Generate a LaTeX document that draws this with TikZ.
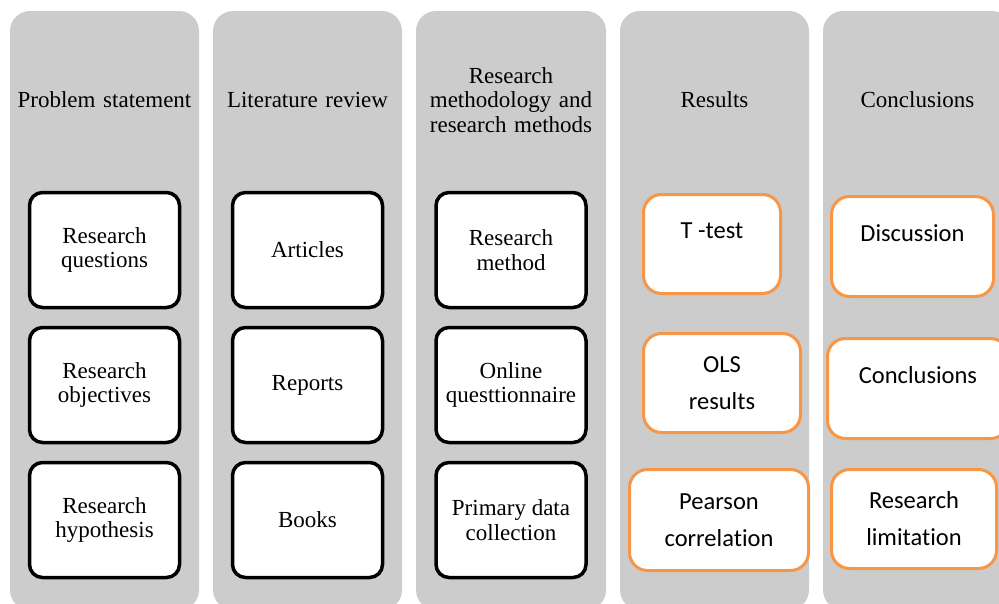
\documentclass[tikz,border=0pt]{standalone}
\usepackage{fontspec}
\setmainfont{Liberation Serif}
\newfontfamily\calib[Ligatures={NoCommon,NoRare}]{Carlito}
\definecolor{panelgray}{RGB}{204,204,204}
\definecolor{boxorange}{RGB}{247,150,70}
\begin{document}
\begin{tikzpicture}[x=1pt,y=-1pt,
 panel/.style={fill=panelgray, rounded corners=20pt},
 head/.style={font=\fontsize{23}{24.5}\selectfont, align=center, text width=185pt, inner sep=0pt},
 bbox/.style={draw=black, line width=3.5pt, fill=white, rounded corners=13pt, minimum width=150pt, minimum height=115pt, align=center, font=\fontsize{23}{24.5}\selectfont, inner sep=0pt},
 obox/.style={draw=boxorange, line width=3pt, fill=white, rounded corners=18pt, align=center, font=\calib\fontsize{24.5}{37}\selectfont, inner sep=0pt}]
\useasboundingbox (0,0) rectangle (999,603);
\clip (0,0) rectangle (999,603);
% panels
\fill[panel] (10,11) rectangle (199,610);
\fill[panel] (213,11) rectangle (402,610);
\fill[panel] (416,11) rectangle (606,610);
\fill[panel] (620,11) rectangle (809,610);
\fill[panel] (823,11) rectangle (1012,610);
% headers
\node[head] (h1) at (104.5,100) {Problem statement};
\node[head] (h2) at (307.5,100) {Literature review};
\node[head] (h3) at (511,100) {Research\\methodology and\\research methods};
\node[head] (h4) at (714.5,100) {Results};
\node[head] (h5) at (917.5,100) {Conclusions};
% column 1
\node[bbox] (a1) at (104.5,250) {Research\\questions};
\node[bbox] (a2) at (104.5,385) {Research\\objectives};
\node[bbox] (a3) at (104.5,520) {Research\\hypothesis};
% column 2
\node[bbox] (b1) at (307.5,250) {Articles};
\node[bbox] (b2) at (307.5,385) {Reports};
\node[bbox] (b3) at (307.5,520) {Books};
% column 3
\node[bbox] (c1) at (511,250) {Research\\method};
\node[bbox] (c2) at (511,385) {Online\\questtionnaire};
\node[bbox] (c3) at (511,520) {Primary data\\collection};
% column 4
\node[obox, minimum width=137pt, text height=43.5pt, text depth=55.5pt] (d1) at (712,244) {T -test};
\node[obox, minimum width=157pt, minimum height=99pt] (d2) at (722,383) {OLS\\results};
\node[obox, minimum width=179pt, minimum height=101pt] (d3) at (719,520) {Pearson\\correlation};
% column 5
\node[obox, minimum width=162pt, text height=44.5pt, text depth=55.5pt] (e1) at (912.5,246.5) {Discussion};
\node[obox, minimum width=181pt, text height=44.5pt, text depth=55.5pt] (e2) at (918,388.5) {Conclusions};
\node[obox, minimum width=165pt, minimum height=99pt] (e3) at (914,519) {Research\\limitation};
\end{tikzpicture}
\end{document}
